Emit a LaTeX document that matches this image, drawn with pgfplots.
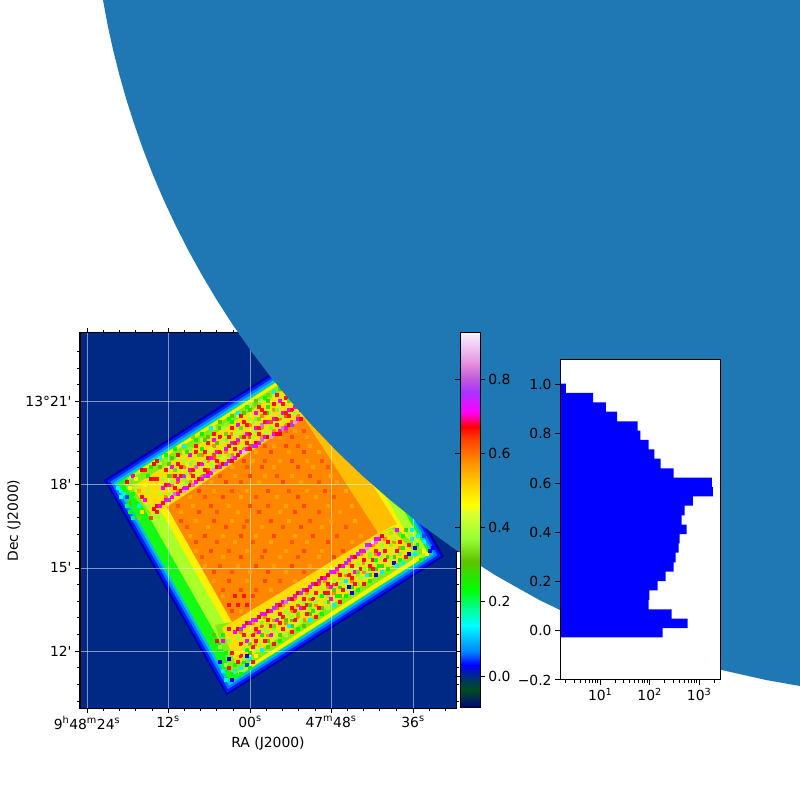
\documentclass[border=0pt]{standalone}
\usepackage{fontspec}
\setmainfont{DejaVu Sans}
\usepackage{pgfplots}
\pgfplotsset{compat=1.18}
\newcommand{\fs}{\fontsize{13.9}{16}\selectfont}
\newcommand{\sq}{\textquotesingle}
\definecolor{wedge}{HTML}{1F77B4}
\definecolor{mapbg}{RGB}{0,40,133}
\definecolor{d0}{RGB}{0,0,175}
\definecolor{d1}{RGB}{0,30,255}
\definecolor{d2}{RGB}{0,120,255}
\definecolor{d3}{RGB}{0,190,240}
\definecolor{green1}{RGB}{20,250,20}
\definecolor{lime1}{RGB}{170,255,40}
\definecolor{yel1}{RGB}{255,240,0}
\definecolor{core}{RGB}{255,135,0}
\definecolor{core2}{RGB}{255,190,0}
\definecolor{yel2}{RGB}{255,222,0}
\definecolor{lime2}{RGB}{130,235,20}
\pgfplotsset{
  colormap={ncar}{
    rgb255(0pt)=(0,0,128) rgb255(49pt)=(0,75,35) rgb255(70pt)=(0,60,80)
    rgb255(116pt)=(0,0,255) rgb255(151pt)=(0,130,255) rgb255(223pt)=(0,255,255)
    rgb255(266pt)=(0,255,150) rgb255(321pt)=(0,255,0) rgb255(396pt)=(95,195,0)
    rgb255(456pt)=(150,255,50) rgb255(526pt)=(220,255,50) rgb255(546pt)=(255,255,0)
    rgb255(601pt)=(255,210,0) rgb255(656pt)=(255,150,0) rgb255(726pt)=(255,60,0)
    rgb255(756pt)=(255,0,0) rgb255(796pt)=(255,0,255) rgb255(851pt)=(170,50,255)
    rgb255(886pt)=(190,90,220) rgb255(926pt)=(230,140,220) rgb255(966pt)=(240,190,240)
    rgb255(1010pt)=(250,240,250)
  },
  mapaxis/.style={
    scale only axis, width=376pt, height=375pt,
    xmin=80, xmax=456, ymin=333, ymax=708, y dir=reverse,
    tick align=outside, axis on top,
    major tick length=4.9pt, minor tick length=2.8pt,
    every tick/.append style={black, line width=1pt},
    axis line style={line width=1pt},
    tick label style={font=\fs},
    label style={font=\fs},
    grid=major,
    grid style={white, opacity=0.5, line width=0.9pt},
    colormap name=ncar, point meta min=-0.086, point meta max=0.924,
  },
  pixels/.style={scatter, only marks, mark=square*, mark size=1.4pt, point meta=explicit,
    scatter/use mapped color={draw=mapped color, fill=mapped color},
    mark options={line width=0.2pt, xshift=0.5pt, yshift=-0.5pt}},
}
\begin{document}
\begin{tikzpicture}[x=1pt,y=1pt]
\path[use as bounding box] (0,0) rectangle (800,800);

% the map: image pixel positions on both axes, ticks placed at the WCS positions
\begin{axis}[mapaxis, at={(80pt,92pt)}, anchor=south west,
    axis background/.style={fill=mapbg},
    xtick={87,168,250,331,413},
    xticklabels={9\textsuperscript{h}48\textsuperscript{m}24\textsuperscript{s},12\textsuperscript{s},00\textsuperscript{s},47\textsuperscript{m}48\textsuperscript{s},36\textsuperscript{s}},
    minor xtick={103.3,119.6,135.9,152.2,184.3,200.6,216.9,233.2,266.3,282.6,298.9,315.2,347.3,363.6,379.9,396.2,429.3,445.6},
    ytick={401,484.5,568,651},
    yticklabels={13°21\sq,18\sq,15\sq,12\sq},
    minor ytick={351.4,368,384.7,417.7,434.4,451.1,467.8,501.2,517.9,534.6,551.3,584.6,601.2,617.8,634.4,667.7,684.4,701.1},
    xlabel={RA (J2000)}, ylabel={Dec (J2000)},
    xlabel style={yshift=-1pt}, ylabel style={yshift=-2pt},
  ]
  % outer edge, nested steps going inwards
  \addplot[fill=d0,draw=none] coordinates {(104,480) (322,341) (444,556.5) (226.5,695.5)} --cycle;
  \addplot[fill=d1,draw=none] coordinates {(107.1,480.9) (320.8,344.3) (440.9,556.1) (227.2,692.7)} --cycle;
  \addplot[fill=d2,draw=none] coordinates {(110.5,481.7) (319.9,347.9) (437.5,555.3) (228.1,689.1)} --cycle;
  \addplot[fill=d3,draw=none] coordinates {(113.9,482.5) (318.9,351.4) (434.1,554.5) (229.1,685.6)} --cycle;
  \addplot[fill=green1,draw=none] coordinates {(117,483.2) (318,355) (431,553.8) (230,682.3)} --cycle;
  \addplot[fill=lime1,draw=none] coordinates {(127.1,477.9) (316.6,356.8) (428.6,554.2) (239.1,675.3)} --cycle;
  \addplot[fill=yel1,draw=none] coordinates {(138.1,470.9) (308.9,361.7) (420.9,559.1) (250.1,668.3)} --cycle;
  % long strips
  \addplot[fill=lime2,draw=none] coordinates {(123,484) (316,361) (337,397) (303,417) (167,507) (150,515)} --cycle;
  \addplot[fill=yel2,draw=none] coordinates {(132,487) (318,368) (330,392) (303,417) (167,507) (152,515)} --cycle;
  \addplot[fill=lime2,draw=none] coordinates {(215,625) (232,622) (378,533) (395,527) (424,552) (232,676)} --cycle;
  \addplot[fill=yel2,draw=none] coordinates {(222,628) (232,622) (378,533) (392,529) (414,552) (236,665)} --cycle;
  % core, with its softer right edge
  \addplot[fill=core2,draw=none] coordinates {(303,417) (378,533) (397,524) (322,405)} --cycle;
  \addplot[fill=core,draw=none] coordinates {(167,507) (303,417) (378,533) (232,622)} --cycle;

  % single pixels: core
  \addplot[pixels] table[x=x,y=y,meta=v,row sep=\\] {x y v\\
   285 430 .62\\294 430 .56\\303 430 .62\\279 436 .56\\291 436 .63\\306 436 .56\\
   264 445 .62\\273 445 .56\\285 445 .63\\297 445 .62\\309 445 .56\\
   255 451 .56\\270 451 .63\\288 451 .56\\303 451 .63\\318 451 .55\\
   243 460 .63\\252 460 .56\\264 460 .62\\279 460 .56\\291 460 .63\\306 460 .56\\321 460 .62\\
   231 466 .56\\246 466 .62\\261 466 .63\\273 466 .56\\297 466 .63\\312 466 .56\\327 466 .62\\
   219 475 .62\\234 475 .56\\249 475 .63\\264 475 .56\\276 475 .62\\291 475 .56\\309 475 .63\\330 475 .55\\
   210 481 .56\\225 481 .63\\240 481 .62\\258 481 .56\\282 481 .63\\300 481 .56\\318 481 .62\\336 481 .56\\
   198 490 .63\\213 490 .56\\231 490 .62\\246 490 .56\\267 490 .63\\288 490 .62\\306 490 .56\\324 490 .63\\345 490 .55\\
   189 496 .56\\204 496 .62\\222 496 .63\\240 496 .56\\255 496 .62\\276 496 .56\\297 496 .63\\315 496 .56\\333 496 .62\\
   177 505 .62\\192 505 .56\\210 505 .63\\228 505 .56\\249 505 .63\\267 505 .62\\285 505 .56\\303 505 .63\\327 505 .56\\351 505 .55\\
   180 511 .56\\198 511 .63\\216 511 .62\\237 511 .56\\258 511 .63\\279 511 .56\\294 511 .63\\318 511 .62\\339 511 .56\\
   180 520 .63\\195 520 .56\\213 520 .63\\231 520 .56\\246 520 .62\\270 520 .63\\288 520 .56\\309 520 .62\\330 520 .56\\354 520 .55\\
   186 526 .62\\207 526 .56\\225 526 .63\\243 526 .62\\261 526 .56\\282 526 .62\\300 526 .63\\321 526 .56\\345 526 .62\\
   189 535 .56\\204 535 .63\\222 535 .56\\240 535 .63\\255 535 .56\\273 535 .63\\294 535 .56\\312 535 .63\\336 535 .62\\360 535 .56\\
   195 541 .63\\216 541 .62\\234 541 .56\\252 541 .62\\270 541 .56\\291 541 .62\\306 541 .56\\327 541 .63\\351 541 .56\\
   195 550 .56\\210 550 .63\\228 550 .62\\246 550 .56\\264 550 .63\\285 550 .56\\303 550 .63\\321 550 .56\\342 550 .62\\
   201 556 .62\\222 556 .56\\240 556 .63\\261 556 .62\\279 556 .56\\297 556 .62\\318 556 .56\\333 556 .63\\
   204 565 .56\\219 565 .62\\237 565 .56\\255 565 .63\\273 565 .56\\291 565 .63\\309 565 .56\\
   213 571 .63\\231 571 .62\\249 571 .56\\267 571 .63\\285 571 .56\\303 571 .62\\
   213 580 .56\\228 580 .63\\246 580 .56\\264 580 .63\\279 580 .62\\294 580 .56\\
   222 589 .62\\240 589 .63\\255 589 .62\\270 589 .56\\
   222 595 .56\\234 595 .66\\243 595 .66\\252 595 .63\\
   228 604 .66\\237 604 .66\\246 604 .66\\231 610 .63\\240 610 .56\\
  };

  % top long strip: the bright row along the core, then the rows further out
  \addplot[pixels] table[x=x,y=y,meta=v,row sep=\\] {x y v\\
   165 496 .58\\171 493 .5\\177 490 .58\\183 484 .4\\189 481 .58\\195 478 .5\\201 475 .58\\207 469 .62\\
   213 466 .4\\219 463 .58\\225 460 .5\\231 454 .58\\237 451 .4\\243 448 .58\\249 445 .62\\255 439 .5\\
   261 436 .58\\267 433 .4\\273 430 .58\\279 427 .5\\285 424 .58\\291 421 .62\\297 415 .58\\
   159 493 .4\\165 487 .5\\171 484 .58\\177 481 .62\\183 478 .36\\189 472 .58\\195 469 .5\\201 466 .4\\
   207 460 .58\\213 457 .62\\219 454 .36\\225 451 .58\\231 445 .4\\237 442 .58\\243 439 .5\\249 436 .62\\
   255 430 .36\\261 427 .58\\267 424 .5\\273 421 .4\\279 418 .58\\285 415 .62\\291 412 .4\\297 406 .58\\
   165 478 .5\\171 475 .58\\177 469 .4\\183 466 .58\\189 463 .36\\195 457 .5\\201 454 .58\\207 451 .4\\
   213 445 .58\\219 442 .5\\225 439 .36\\231 433 .58\\237 430 .4\\243 427 .5\\249 424 .58\\255 418 .36\\
   261 415 .58\\267 412 .3\\273 409 .58\\279 403 .4\\285 403 .5\\
   159 463 .4\\165 460 .36\\171 457 .3\\177 457 .4\\183 451 .5\\189 448 .36\\195 439 .28\\201 439 .4\\
   207 436 .3\\213 427 .4\\219 427 .3\\225 424 .36\\231 415 .3\\237 415 .4\\243 412 .3\\249 403 .4\\
   255 400 .3\\261 400 .4\\267 394 .33\\273 394 .4\\279 388 .3\\
   153 508 .67\\156 505 .68\\159 505 .72\\162 502 .66\\165 499 .71\\168 499 .77\\171 496 .72\\174 493 .82\\
   177 493 .72\\180 490 .67\\183 490 .85\\186 487 .72\\189 484 .66\\192 484 .82\\195 481 .72\\198 478 .67\\
   201 478 .72\\204 475 .77\\207 472 .66\\210 472 .72\\213 469 .85\\216 466 .67\\219 466 .72\\222 463 .67\\
   225 463 .77\\228 460 .72\\231 457 .82\\234 457 .72\\237 454 .67\\240 451 .72\\243 451 .88\\246 448 .72\\
   249 448 .66\\252 445 .77\\255 442 .67\\258 442 .72\\261 439 .82\\264 436 .72\\267 436 .67\\270 436 .85\\
   273 433 .72\\276 433 .67\\279 430 .72\\282 427 .82\\285 427 .72\\288 424 .67\\291 424 .77\\294 421 .85\\
   297 418 .72\\300 418 .67\\183 487 .72\\207 475 .72\\231 460 .67\\255 445 .72\\279 433 .67\\
   162 487 .72\\165 484 .66\\168 484 .72\\171 481 .38\\174 475 .66\\177 478 .72\\180 475 .66\\183 475 .77\\
   186 472 .38\\189 469 .71\\192 469 .66\\195 466 .82\\198 463 .66\\201 463 .72\\204 460 .38\\207 457 .66\\
   210 457 .72\\213 454 .63\\216 451 .72\\219 451 .66\\222 448 .4\\225 448 .72\\228 445 .66\\231 442 .77\\
   234 442 .66\\237 439 .72\\240 436 .33\\243 436 .66\\246 433 .72\\249 433 .66\\252 430 .4\\255 427 .72\\
   258 427 .66\\261 424 .82\\264 421 .66\\267 421 .72\\270 421 .63\\273 418 .72\\276 418 .66\\279 415 .38\\
   282 412 .72\\285 412 .66\\288 409 .72\\291 409 .66\\294 406 .71\\
   165 469 .66\\171 466 .71\\177 463 .66\\183 460 .38\\189 454 .71\\195 451 .66\\201 448 .24\\207 442 .66\\
   213 439 .72\\219 436 .66\\225 433 .33\\231 427 .66\\237 424 .72\\243 421 .66\\249 418 .38\\255 412 .72\\
   261 409 .66\\267 406 .24\\273 403 .66\\279 400 .72\\285 397 .66\\
   168 493 .38\\174 487 .66\\180 484 .42\\186 481 .36\\192 475 .66\\198 472 .4\\204 469 .66\\210 463 .38\\
   216 460 .66\\222 457 .42\\228 454 .36\\234 448 .66\\240 445 .4\\246 442 .66\\252 436 .38\\258 433 .66\\
   264 430 .4\\270 427 .36\\276 424 .66\\282 421 .4\\288 415 .66\\294 412 .38\\300 409 .66\\
   162 478 .38\\168 475 .3\\174 469 .33\\180 466 .66\\186 463 .42\\192 460 .38\\198 454 .33\\204 451 .66\\
   210 448 .42\\216 442 .3\\222 439 .38\\228 436 .66\\234 433 .4\\240 427 .33\\246 424 .66\\252 421 .38\\
   258 418 .33\\264 412 .66\\270 412 .4\\276 409 .36\\282 403 .66\\288 400 .33\\
   150 466 .24\\159 457 .13\\165 454 .24\\174 448 .24\\183 445 .13\\192 436 .33\\201 433 .24\\210 427 .13\\
   219 421 .3\\228 418 .24\\237 412 .13\\246 406 .24\\255 403 .33\\264 397 .24\\273 391 .13\\
   168 463 .3\\177 454 .66\\186 451 .24\\195 445 .66\\204 439 .3\\213 433 .66\\222 427 .38\\231 421 .24\\
   240 415 .66\\249 409 .3\\258 406 .66\\267 400 .3\\276 394 .66\\
  };

  % left corner
  \addplot[pixels] table[x=x,y=y,meta=v,row sep=\\] {x y v\\
   117 487 .13\\120 490 .13\\120 496 .14\\123 493 .16\\126 496 .05\\123 487 .24\\126 481 .67\\129 487 .46\\
   132 475 .7\\135 478 .46\\135 487 .38\\132 493 .24\\129 502 .3\\135 502 .24\\138 505 .13\\141 496 .66\\
   144 499 .72\\147 490 .4\\144 484 .47\\141 469 .67\\144 469 .66\\147 475 .24\\150 478 .67\\153 478 .66\\
   156 478 .66\\153 463 .67\\156 460 .66\\159 466 .3\\138 490 .55\\126 505 .2\\129 511 .24\\132 517 .2\\
   138 517 .33\\141 511 .5\\147 505 .38\\150 517 .63\\156 511 .66\\
  };

  % bottom long strip
  \addplot[pixels] table[x=x,y=y,meta=v,row sep=\\] {x y v\\
   240 631 .58\\246 625 .5\\252 622 .58\\258 619 .4\\264 616 .58\\270 613 .5\\276 607 .62\\282 604 .58\\
   288 601 .4\\294 598 .58\\300 595 .5\\306 592 .58\\312 586 .4\\318 583 .62\\324 580 .58\\330 574 .5\\
   336 571 .58\\342 568 .4\\348 562 .58\\354 559 .5\\360 553 .58\\366 550 .4\\372 544 .58\\378 541 .5\\384 538 .58\\
   243 637 .4\\249 634 .5\\255 631 .58\\261 625 .62\\267 622 .36\\273 619 .58\\279 616 .4\\285 613 .5\\
   291 610 .58\\297 604 .62\\303 601 .36\\309 598 .58\\315 595 .4\\321 589 .5\\327 586 .58\\333 583 .62\\
   339 577 .36\\345 574 .58\\351 568 .4\\357 565 .5\\363 562 .58\\369 556 .36\\375 553 .58\\381 547 .4\\387 544 .5\\393 541 .58\\
   249 646 .5\\255 643 .58\\261 637 .4\\267 634 .58\\273 628 .36\\279 625 .5\\285 622 .58\\291 619 .3\\
   297 616 .58\\303 610 .4\\309 607 .36\\315 604 .58\\321 598 .5\\327 595 .36\\333 592 .58\\339 586 .28\\
   345 583 .4\\351 580 .58\\357 574 .36\\363 571 .58\\369 568 .3\\375 562 .4\\381 559 .5\\387 556 .28\\393 550 .4\\399 547 .58\\
   249 652 .3\\255 649 .4\\261 643 .5\\267 640 .3\\273 637 .4\\279 634 .28\\285 628 .5\\291 625 .3\\
   297 622 .4\\303 619 .58\\309 613 .3\\315 610 .4\\321 607 .28\\327 601 .3\\333 598 .4\\339 595 .3\\
   345 589 .4\\351 586 .28\\357 583 .36\\363 577 .4\\369 574 .3\\375 568 .28\\381 565 .3\\387 562 .4\\393 556 .3\\399 553 .36\\
   234 631 .72\\237 628 .67\\240 628 .77\\243 625 .72\\246 622 .67\\249 622 .72\\252 619 .77\\255 619 .72\\
   258 616 .67\\261 613 .72\\264 613 .72\\267 610 .67\\270 610 .72\\273 607 .77\\276 604 .72\\279 604 .67\\
   282 601 .72\\285 601 .82\\288 598 .72\\291 598 .67\\294 595 .72\\297 592 .67\\300 592 .77\\303 589 .72\\
   306 589 .67\\309 586 .72\\312 583 .72\\315 583 .67\\318 580 .72\\321 577 .67\\324 577 .72\\327 574 .67\\
   330 571 .77\\333 571 .72\\336 568 .72\\339 565 .67\\342 565 .72\\345 562 .77\\348 559 .72\\351 556 .72\\
   354 556 .67\\357 553 .77\\360 550 .72\\363 550 .72\\366 547 .85\\369 544 .72\\372 541 .9\\375 541 .82\\
   378 538 .72\\381 535 .67\\366 544 .77\\375 538 .72\\
   240 643 .66\\246 640 .72\\252 634 .66\\258 631 .72\\264 628 .38\\270 625 .66\\276 619 .72\\282 616 .66\\
   288 613 .38\\294 610 .66\\300 607 .72\\306 604 .66\\312 598 .66\\318 595 .38\\324 592 .67\\330 586 .71\\
   336 583 .66\\342 580 .38\\348 574 .66\\354 571 .72\\360 568 .66\\366 562 .4\\372 559 .66\\378 553 .72\\
   384 550 .66\\390 544 .36\\
   237 637 .38\\243 634 .66\\249 631 .4\\255 628 .66\\261 622 .36\\267 619 .66\\273 616 .4\\279 613 .66\\
   285 610 .38\\291 607 .66\\297 601 .4\\303 598 .66\\309 595 .38\\315 592 .66\\321 586 .4\\327 583 .66\\
   333 580 .38\\339 574 .66\\345 571 .4\\351 565 .66\\357 562 .38\\363 559 .66\\369 553 .36\\375 550 .66\\
   381 544 .38\\387 541 .66\\
   240 655 .66\\246 649 .24\\252 646 .66\\258 643 .38\\264 640 .66\\270 634 .72\\276 631 .38\\282 628 .66\\
   288 625 .13\\294 619 .66\\300 619 .38\\306 613 .66\\312 610 .24\\318 607 .66\\324 601 .38\\330 598 .72\\
   336 595 .24\\342 589 .66\\348 586 .03\\354 583 .66\\360 577 .38\\366 574 .13\\372 568 .66\\378 565 .24\\
   384 559 .66\\390 556 .38\\396 550 .66\\402 547 .24\\
   243 646 .38\\249 643 .33\\255 640 .66\\261 634 .3\\267 631 .38\\273 625 .33\\279 622 .66\\285 619 .3\\
   291 616 .38\\297 613 .33\\303 607 .66\\309 604 .3\\315 601 .38\\321 595 .24\\327 592 .66\\333 589 .3\\
   339 583 .38\\345 580 .13\\351 577 .66\\357 571 .33\\363 568 .38\\369 565 .66\\375 559 .24\\381 556 .38\\
   243 661 .24\\249 658 .13\\255 655 .46\\261 649 .13\\267 646 .3\\273 643 .66\\279 640 .24\\285 634 .38\\
   291 631 .66\\297 628 .24\\303 625 .3\\309 619 .13\\315 616 .66\\321 613 .24\\327 607 .38\\333 604 .13\\
   339 601 .66\\345 595 .24\\351 592 .03\\357 589 .24\\363 583 .66\\369 580 .24\\375 574 .03\\381 571 .13\\
   387 568 .24\\393 562 .03\\399 559 .24\\405 556 .66\\411 550 .38\\
  };

  % bottom and right corners
  \addplot[pixels] table[x=x,y=y,meta=v,row sep=\\] {x y v\\
   219 661 .03\\222 670 .13\\225 664 .38\\228 658 .03\\228 667 .66\\231 673 .24\\225 679 .13\\231 679 .03\\
   234 664 .24\\234 670 .13\\237 661 .66\\240 667 .13\\240 673 .24\\243 658 .38\\246 664 .05\\249 667 .24\\
   252 661 .66\\246 655 .03\\237 652 .46\\231 652 .66\\225 652 .24\\219 646 .38\\222 640 .72\\216 640 .66\\
   213 634 .3\\222 634 .24\\228 628 .66\\228 640 .38\\
   420 559 .24\\423 550 .46\\426 553 .46\\429 550 .03\\432 547 .03\\423 541 .13\\417 544 .24\\414 553 .13\\
   411 538 .13\\408 544 .66\\402 535 .24\\405 529 .3\\399 541 .66\\396 529 .72\\393 538 .38\\390 532 .36\\
   411 529 .13\\417 535 .13\\420 544 .38\\423 535 .05\\414 547 .03\\408 553 .03\\402 562 .13\\396 565 .13\\
  };
\end{axis}

% the disc that lies over the map, in image positions
\begin{axis}[at={(0pt,0pt)}, anchor=south west, scale only axis, width=800pt, height=800pt,
    xmin=0, xmax=800, ymin=0, ymax=800, y dir=reverse, hide axis]
  \addplot[fill=wedge,draw=none] coordinates {
    (103,0) (107.6,25) (113.1,50) (119.4,75) (126.5,100) (134.5,125) (143.3,150) (153,175)
    (163.7,200) (175.4,225) (188.1,250) (201.9,275) (216.8,300) (232.9,325) (250.4,350)
    (269.2,375) (289.6,400) (311.7,425) (335.6,450) (361.6,475) (390.1,500) (421.4,525)
    (456.1,550) (494.9,575) (539.3,600) (591.2,625) (654.9,650) (721.7,670) (766,680)
    (800,686) (800,0)} --cycle;
\end{axis}

% colour bar
\begin{axis}[at={(460pt,92pt)}, anchor=south west, scale only axis, width=20pt, height=375pt,
    xmin=0, xmax=1, ymin=-0.086, ymax=0.924, xtick=\empty,
    ytick={0,0.2,0.4,0.6,0.8}, yticklabels={0.0,0.2,0.4,0.6,0.8},
    yticklabel pos=right, tick align=outside, major tick length=4.9pt,
    every tick/.append style={black, line width=1pt},
    axis line style={line width=1pt}, tick label style={font=\fs},
    colormap name=ncar, point meta min=-0.086, point meta max=0.924, axis on top]
  \addplot[surf, shader=interp, mesh/rows=22, mesh/cols=2, point meta=y] coordinates {
    (0,-.086) (1,-.086) (0,-.037) (1,-.037) (0,-.016) (1,-.016) (0,.03) (1,.03)
    (0,.065) (1,.065) (0,.137) (1,.137) (0,.18) (1,.18) (0,.235) (1,.235)
    (0,.31) (1,.31) (0,.37) (1,.37) (0,.44) (1,.44) (0,.46) (1,.46)
    (0,.515) (1,.515) (0,.57) (1,.57) (0,.64) (1,.64) (0,.67) (1,.67)
    (0,.71) (1,.71) (0,.765) (1,.765) (0,.8) (1,.8) (0,.84) (1,.84)
    (0,.88) (1,.88) (0,.924) (1,.924)};
\end{axis}

% histogram
\begin{axis}[at={(560pt,120pt)}, anchor=south west, scale only axis, width=160pt, height=320pt,
    xmode=log, xmin=1.54, xmax=2640, ymin=-0.2, ymax=1.1,
    axis background/.style={fill=white},
    xtick={10,100,1000}, xticklabels={10\textsuperscript{1},10\textsuperscript{2},10\textsuperscript{3}},
    minor xtick={2,3,4,5,6,7,8,9,20,30,40,50,60,70,80,90,200,300,400,500,600,700,800,900,2000},
    ytick={-0.2,0,0.2,0.4,0.6,0.8,1.0}, yticklabels={−0.2,0.0,0.2,0.4,0.6,0.8,1.0},
    xtick pos=lower, ytick pos=left, tick align=outside,
    major tick length=4.9pt, minor tick length=2.8pt,
    every tick/.append style={black, line width=1pt},
    axis line style={line width=1pt}, tick label style={font=\fs}, axis on top]
  \addplot[xbar interval, fill=blue, draw=none] coordinates {
    (182,-0.027) (588,0.011) (278,0.049) (95,0.087) (99,0.126) (144,0.164) (210,0.202)
    (305,0.240) (335,0.278) (386,0.317) (404,0.355) (561,0.393) (444,0.431) (511,0.469)
    (743,0.508) (1897,0.546) (1811,0.584) (305,0.622) (166,0.660) (125,0.699) (95,0.737)
    (65,0.775) (57,0.813) (22,0.851) (13,0.890) (7.2,0.928) (2.03,0.966) (2.03,1.004)};
\end{axis}
\end{tikzpicture}
\end{document}
